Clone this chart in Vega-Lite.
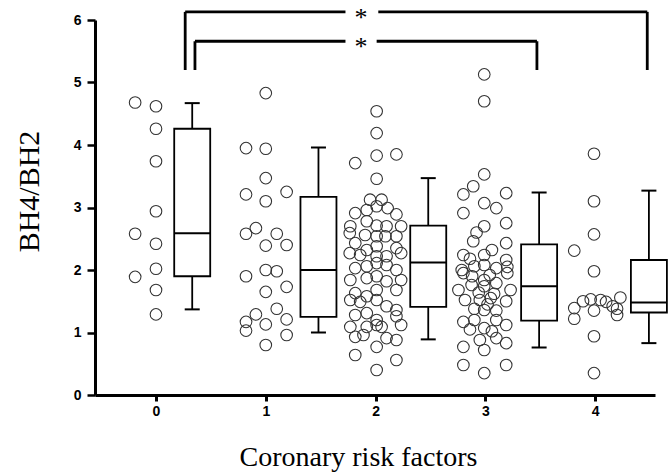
{
  "$schema": "https://vega.github.io/schema/vega-lite/v6.json",
  "autosize": "none",
  "width": 560,
  "height": 375,
  "padding": {"left": 95, "top": 20, "right": 16, "bottom": 81},
  "background": "white",
  "config": {"view": {"stroke": null}},
  "datasets": {
    "points": [
      {"x": -0.19, "y": 4.68}, {"x": 0.0, "y": 4.62}, {"x": 0.0, "y": 4.26}, {"x": 0.0, "y": 3.74}, {"x": 0.0, "y": 2.94}, {"x": -0.19, "y": 2.58}, {"x": 0.0, "y": 2.42}, {"x": 0.0, "y": 2.02}, {"x": -0.19, "y": 1.89}, {"x": 0.0, "y": 1.68}, {"x": 0.0, "y": 1.29},
      {"x": 1.0, "y": 4.83}, {"x": 0.82, "y": 3.95}, {"x": 1.0, "y": 3.94}, {"x": 1.0, "y": 3.47}, {"x": 0.82, "y": 3.21}, {"x": 1.19, "y": 3.25}, {"x": 1.0, "y": 3.10}, {"x": 0.91, "y": 2.67}, {"x": 0.82, "y": 2.58}, {"x": 1.10, "y": 2.58}, {"x": 1.0, "y": 2.39}, {"x": 1.19, "y": 2.40}, {"x": 0.82, "y": 1.90}, {"x": 1.0, "y": 2.00}, {"x": 1.10, "y": 1.98}, {"x": 1.19, "y": 1.73}, {"x": 1.0, "y": 1.65}, {"x": 1.10, "y": 1.38}, {"x": 0.91, "y": 1.29}, {"x": 0.82, "y": 1.17}, {"x": 0.82, "y": 1.03}, {"x": 1.0, "y": 1.13}, {"x": 1.19, "y": 1.21}, {"x": 1.19, "y": 0.96}, {"x": 1.0, "y": 0.80},
      {"x": 2.01, "y": 4.54}, {"x": 2.01, "y": 4.19}, {"x": 2.01, "y": 3.83}, {"x": 2.19, "y": 3.85}, {"x": 1.815, "y": 3.71}, {"x": 2.01, "y": 3.46},
      {"x": 1.95, "y": 3.125}, {"x": 2.055, "y": 3.125},
      {"x": 1.815, "y": 2.91}, {"x": 1.92, "y": 2.96}, {"x": 2.01, "y": 3.02}, {"x": 2.11, "y": 2.99}, {"x": 2.19, "y": 2.89},
      {"x": 1.77, "y": 2.70}, {"x": 2.01, "y": 2.71}, {"x": 1.92, "y": 2.78}, {"x": 2.10, "y": 2.70}, {"x": 2.233, "y": 2.70},
      {"x": 1.765, "y": 2.59}, {"x": 1.905, "y": 2.56}, {"x": 2.01, "y": 2.54}, {"x": 2.09, "y": 2.54}, {"x": 2.19, "y": 2.54},
      {"x": 1.815, "y": 2.43}, {"x": 2.01, "y": 2.38}, {"x": 1.92, "y": 2.32}, {"x": 2.19, "y": 2.35},
      {"x": 1.765, "y": 2.27}, {"x": 1.86, "y": 2.24}, {"x": 2.01, "y": 2.22}, {"x": 2.10, "y": 2.22}, {"x": 2.233, "y": 2.27},
      {"x": 1.815, "y": 2.03}, {"x": 1.92, "y": 2.06}, {"x": 2.01, "y": 2.11}, {"x": 2.10, "y": 2.08}, {"x": 2.19, "y": 2.00},
      {"x": 1.77, "y": 1.84}, {"x": 1.92, "y": 1.87}, {"x": 2.01, "y": 1.90}, {"x": 2.10, "y": 1.82}, {"x": 2.233, "y": 1.84},
      {"x": 1.815, "y": 1.63}, {"x": 2.01, "y": 1.68}, {"x": 1.92, "y": 1.58}, {"x": 2.19, "y": 1.68},
      {"x": 1.77, "y": 1.52}, {"x": 1.86, "y": 1.49}, {"x": 2.01, "y": 1.52}, {"x": 2.10, "y": 1.42}, {"x": 2.19, "y": 1.36},
      {"x": 1.815, "y": 1.28}, {"x": 1.92, "y": 1.31}, {"x": 2.01, "y": 1.20}, {"x": 2.19, "y": 1.26},
      {"x": 1.77, "y": 1.09}, {"x": 1.92, "y": 1.09}, {"x": 2.01, "y": 1.12}, {"x": 2.055, "y": 1.09}, {"x": 2.233, "y": 1.12},
      {"x": 1.815, "y": 0.93}, {"x": 1.89, "y": 0.96}, {"x": 2.01, "y": 0.77}, {"x": 2.10, "y": 0.91}, {"x": 2.19, "y": 0.88},
      {"x": 1.815, "y": 0.64}, {"x": 2.01, "y": 0.40}, {"x": 2.19, "y": 0.56},
      {"x": 2.99, "y": 5.13}, {"x": 2.99, "y": 4.70}, {"x": 2.99, "y": 3.53}, {"x": 2.89, "y": 3.34}, {"x": 2.80, "y": 3.21}, {"x": 3.19, "y": 3.23}, {"x": 2.99, "y": 3.07}, {"x": 3.10, "y": 2.99}, {"x": 2.80, "y": 2.91}, {"x": 2.99, "y": 2.70}, {"x": 3.19, "y": 2.75}, {"x": 2.89, "y": 2.46}, {"x": 3.19, "y": 2.43}, {"x": 2.80, "y": 2.24}, {"x": 2.99, "y": 2.24}, {"x": 3.19, "y": 2.16}, {"x": 2.90, "y": 2.06}, {"x": 2.99, "y": 2.08}, {"x": 3.10, "y": 2.03}, {"x": 2.785, "y": 2.00}, {"x": 3.20, "y": 1.95}, {"x": 2.755, "y": 1.68}, {"x": 2.99, "y": 1.84}, {"x": 2.99, "y": 1.74}, {"x": 3.10, "y": 1.79}, {"x": 2.875, "y": 1.76}, {"x": 3.23, "y": 1.68}, {"x": 2.815, "y": 1.52}, {"x": 2.95, "y": 1.52}, {"x": 3.05, "y": 1.55}, {"x": 3.19, "y": 1.50}, {"x": 2.99, "y": 1.36}, {"x": 2.80, "y": 1.17}, {"x": 2.90, "y": 1.20}, {"x": 3.10, "y": 1.20}, {"x": 3.19, "y": 1.12}, {"x": 2.99, "y": 1.07}, {"x": 2.80, "y": 0.77}, {"x": 2.95, "y": 0.88}, {"x": 3.10, "y": 0.91}, {"x": 3.19, "y": 0.83}, {"x": 2.99, "y": 0.72}, {"x": 2.80, "y": 0.48}, {"x": 2.99, "y": 0.35}, {"x": 3.19, "y": 0.48},
      {"x": 2.88, "y": 1.90}, {"x": 3.08, "y": 1.62}, {"x": 2.90, "y": 1.38}, {"x": 3.10, "y": 1.35}, {"x": 2.80, "y": 1.95}, {"x": 3.20, "y": 2.05},
      {"x": 2.92, "y": 2.60}, {"x": 3.06, "y": 2.32}, {"x": 2.86, "y": 2.18}, {"x": 3.04, "y": 1.92}, {"x": 2.94, "y": 1.64}, {"x": 2.86, "y": 1.05}, {"x": 3.06, "y": 1.02}, {"x": 3.02, "y": 1.45},
      {"x": 3.99, "y": 3.86}, {"x": 3.99, "y": 3.10}, {"x": 3.99, "y": 2.57}, {"x": 3.81, "y": 2.31}, {"x": 3.99, "y": 1.98}, {"x": 3.81, "y": 1.39}, {"x": 3.81, "y": 1.22}, {"x": 3.89, "y": 1.50}, {"x": 3.96, "y": 1.53}, {"x": 4.05, "y": 1.52}, {"x": 3.99, "y": 1.35}, {"x": 4.10, "y": 1.49}, {"x": 4.16, "y": 1.42}, {"x": 4.20, "y": 1.38}, {"x": 4.20, "y": 1.28}, {"x": 4.23, "y": 1.56}, {"x": 3.99, "y": 0.94}, {"x": 3.99, "y": 0.35}
    ],
    "boxes": [
      {"pos": 0.33, "lo": 1.37, "q1": 1.90, "med": 2.59, "q3": 4.26, "hi": 4.67},
      {"pos": 1.48, "lo": 1.00, "q1": 1.25, "med": 2.00, "q3": 3.17, "hi": 3.96},
      {"pos": 2.48, "lo": 0.89, "q1": 1.41, "med": 2.12, "q3": 2.71, "hi": 3.47},
      {"pos": 3.49, "lo": 0.76, "q1": 1.19, "med": 1.74, "q3": 2.41, "hi": 3.24},
      {"pos": 4.49, "lo": 0.83, "q1": 1.32, "med": 1.48, "q3": 2.16, "hi": 3.27}
    ],
    "brackets": [
      {"x": 0.266, "x2": 1.726, "y": 6.13, "y2": 6.13},
      {"x": 2.025, "x2": 4.475, "y": 6.13, "y2": 6.13},
      {"x": 0.266, "x2": 0.266, "y": 6.13, "y2": 5.20},
      {"x": 4.475, "x2": 4.475, "y": 6.13, "y2": 5.20},
      {"x": 0.355, "x2": 1.726, "y": 5.66, "y2": 5.66},
      {"x": 2.01, "x2": 3.47, "y": 5.66, "y2": 5.66},
      {"x": 0.355, "x2": 0.355, "y": 5.66, "y2": 5.20},
      {"x": 3.47, "x2": 3.47, "y": 5.66, "y2": 5.20}
    ],
    "stars": [
      {"x": 1.868, "y": 6.13, "label": "*"},
      {"x": 1.868, "y": 5.66, "label": "*"}
    ]
  },
  "layer": [
    {
      "data": {"name": "points"},
      "mark": {"type": "point", "shape": "circle", "filled": false, "stroke": "#333333", "strokeWidth": 1.1, "size": 135, "opacity": 1},
      "encoding": {
        "x": {
          "field": "x", "type": "quantitative",
          "scale": {"domain": [-0.51, 4.5], "nice": false, "zero": false},
          "axis": {
            "values": [0, 1, 2, 3, 4], "grid": false, "format": "d",
            "domainColor": "black", "domainWidth": 3, "tickColor": "black", "tickWidth": 3, "tickSize": 6,
            "labelFont": "Liberation Sans", "labelFontSize": 14, "labelFontWeight": "bold", "labelColor": "black", "labelPadding": 3,
            "title": "Coronary risk factors", "titleFont": "Liberation Serif", "titleFontSize": 28, "titleFontWeight": "normal", "titleColor": "black",
            "titleX": 263, "titleY": 70, "titleAlign": "center", "titleBaseline": "alphabetic"
          }
        },
        "y": {
          "field": "y", "type": "quantitative",
          "scale": {"domain": [0, 6], "nice": false, "zero": true},
          "axis": {
            "values": [0, 0.5, 1, 1.5, 2, 2.5, 3, 3.5, 4, 4.5, 5, 5.5, 6], "grid": false,
            "labelExpr": "datum.value % 1 === 0 ? format(datum.value, 'd') : ''",
            "domainColor": "black", "domainWidth": 3, "tickColor": "black", "tickWidth": 2.5,
            "tickSize": {"condition": {"test": "datum.value % 1 === 0", "value": 8}, "value": 4},
            "labelFont": "Liberation Sans", "labelFontSize": 14, "labelFontWeight": "bold", "labelColor": "black", "labelPadding": 6,
            "title": "BH4/BH2", "titleFont": "Liberation Serif", "titleFontSize": 30, "titleFontWeight": "normal", "titleColor": "black",
            "titleX": -57, "titleY": 171, "titleAlign": "center", "titleBaseline": "alphabetic", "titleAngle": -90
          }
        }
      }
    },
    {
      "data": {"name": "boxes"},
      "mark": {"type": "rule", "stroke": "black", "strokeWidth": 1.8},
      "encoding": {"x": {"field": "pos", "type": "quantitative"}, "y": {"field": "q3", "type": "quantitative"}, "y2": {"field": "hi"}}
    },
    {
      "data": {"name": "boxes"},
      "mark": {"type": "rule", "stroke": "black", "strokeWidth": 1.8},
      "encoding": {"x": {"field": "pos", "type": "quantitative"}, "y": {"field": "lo", "type": "quantitative"}, "y2": {"field": "q1"}}
    },
    {
      "data": {"name": "boxes"},
      "mark": {"type": "bar", "width": 36, "fill": "white", "stroke": "black", "strokeWidth": 1.8, "clip": false},
      "encoding": {"x": {"field": "pos", "type": "quantitative"}, "y": {"field": "q1", "type": "quantitative"}, "y2": {"field": "q3"}}
    },
    {
      "data": {"name": "boxes"},
      "mark": {"type": "tick", "orient": "horizontal", "size": 36, "thickness": 2, "color": "black", "opacity": 1},
      "encoding": {"x": {"field": "pos", "type": "quantitative"}, "y": {"field": "med", "type": "quantitative"}}
    },
    {
      "data": {"name": "boxes"},
      "mark": {"type": "tick", "orient": "horizontal", "size": 15, "thickness": 2, "color": "black", "opacity": 1},
      "encoding": {"x": {"field": "pos", "type": "quantitative"}, "y": {"field": "hi", "type": "quantitative"}}
    },
    {
      "data": {"name": "boxes"},
      "mark": {"type": "tick", "orient": "horizontal", "size": 15, "thickness": 2, "color": "black", "opacity": 1},
      "encoding": {"x": {"field": "pos", "type": "quantitative"}, "y": {"field": "lo", "type": "quantitative"}}
    },
    {
      "data": {"name": "brackets"},
      "mark": {"type": "rule", "stroke": "black", "strokeWidth": 2.8, "clip": false},
      "encoding": {"x": {"field": "x", "type": "quantitative"}, "x2": {"field": "x2"}, "y": {"field": "y", "type": "quantitative"}, "y2": {"field": "y2"}}
    },
    {
      "data": {"name": "stars"},
      "mark": {"type": "text", "font": "Liberation Serif", "fontSize": 26, "color": "black", "baseline": "middle", "align": "center", "dy": 6, "clip": false},
      "encoding": {"x": {"field": "x", "type": "quantitative"}, "y": {"field": "y", "type": "quantitative"}, "text": {"field": "label"}}
    }
  ]
}
